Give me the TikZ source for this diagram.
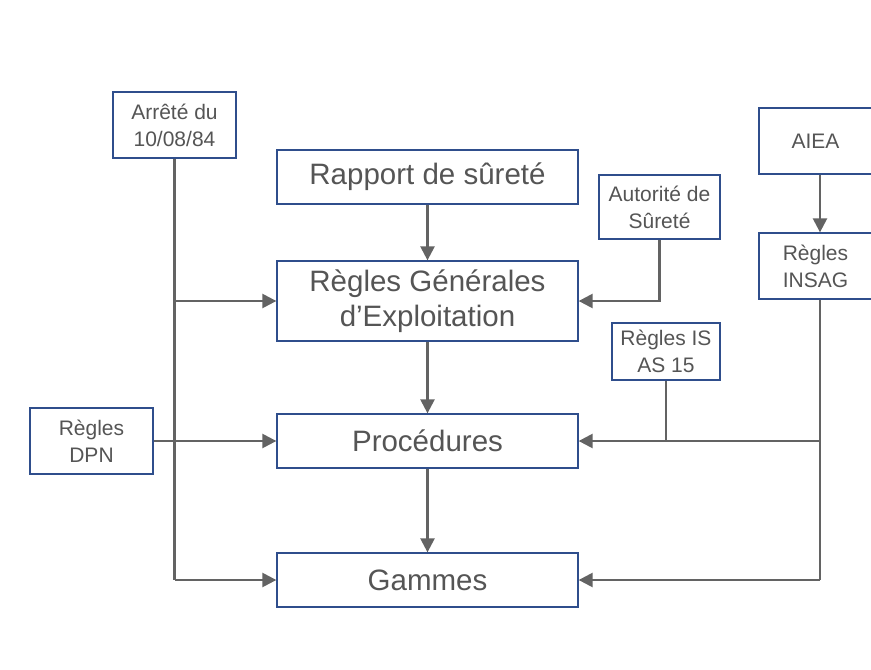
\documentclass[tikz,border=0pt]{standalone}
\usepackage{fontspec}
\setmainfont{Liberation Sans}
\usetikzlibrary{arrows.meta}
\definecolor{boxblue}{HTML}{2F4E8C}
\definecolor{txtgray}{HTML}{555555}
\definecolor{linegray}{HTML}{636363}
\begin{document}
\begin{tikzpicture}[x=1pt,y=-1pt,
  box/.style={draw=boxblue,line width=1.3pt,fill=white,text=txtgray,align=center,inner sep=0pt},
  small/.style={box,font=\fontsize{21}{27}\selectfont},
  big/.style={box,font=\fontsize{29.5}{35}\selectfont,minimum width=301pt},
  link/.style={draw=linegray,line width=2.4pt},
  arr/.style={link,-{Triangle[length=14pt,width=14pt]}}]
\useasboundingbox (0,0) rectangle (871,670);
% central column
\node[big,minimum height=54pt] (rapport) at (427.5,177) {Rapport de sûreté};
\node[big,minimum height=80pt] (rge) at (427.5,301) {Règles Générales\\d’Exploitation};
\node[big,minimum height=54pt] (proc) at (427.5,441) {Procédures};
\node[big,minimum height=54pt] (gammes) at (427.5,580) {Gammes};
% left side
\node[small,minimum width=123pt,minimum height=66pt] (arrete) at (174.5,125) {Arrêté du\\10/08/84};
\node[small,minimum width=123pt,minimum height=66pt] (dpn) at (91.5,441) {Règles\\DPN};
% right side
\node[small,minimum width=121pt,minimum height=64pt] (autorite) at (659.5,207) {Autorité de\\Sûreté};
\node[small,minimum width=108pt,minimum height=57pt] (isas) at (666,351.5) {Règles IS\\AS 15};
\node[small,minimum width=113pt,minimum height=66pt] (aiea) at (815.5,141) {AIEA};
\node[small,minimum width=113pt,minimum height=66pt] (insag) at (815.5,266) {Règles\\INSAG};
% main flow
\draw[arr] (rapport) -- (rge);
\draw[arr] (rge) -- (proc);
\draw[arr] (proc) -- (gammes);
% Arrete du 10/08/84
\draw[link] (arrete.south) -- (arrete.south |- gammes.west);
\draw[arr] (arrete.south |- rge.west) -- (rge.west);
\draw[arr] (arrete.south |- gammes.west) -- (gammes.west);
% DPN
\draw[arr] (dpn.east) -- (proc.west);
% Autorite de surete
\draw[arr] (autorite.south) |- (rge.east);
% AIEA / INSAG
\draw[arr] ([xshift=4.5pt]aiea.south) -- ([xshift=4.5pt]insag.north);
\draw[link] ([xshift=4.5pt]insag.south) -- ([xshift=4.5pt]insag.south |- gammes.east);
\draw[arr] ([xshift=4.5pt]insag.south |- gammes.east) -- (gammes.east);
\draw[arr] ([xshift=4.5pt]insag.south |- proc.east) -- (proc.east);
% IS AS 15
\draw[link] (isas.south) -- (isas.south |- proc.east);
\end{tikzpicture}
\end{document}
